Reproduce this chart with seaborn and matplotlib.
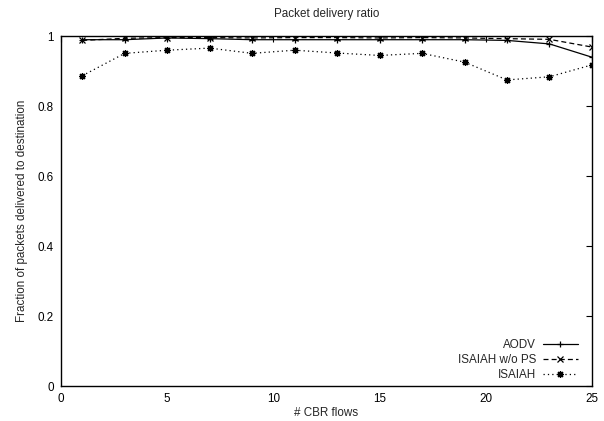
import matplotlib
matplotlib.use("Agg")
import matplotlib.pyplot as plt
import seaborn as sns
import pandas as pd
from matplotlib.ticker import FuncFormatter, MultipleLocator

flows = [1, 3, 5, 7, 9, 11, 13, 15, 17, 19, 21, 23, 25]
aodv = [0.990, 0.990, 0.995, 0.993, 0.990, 0.990, 0.990, 0.990, 0.990, 0.990, 0.988, 0.978, 0.940]
isaiah_nops = [0.988, 0.994, 0.996, 0.996, 0.995, 0.996, 0.996, 0.995, 0.996, 0.995, 0.993, 0.991, 0.969]
isaiah = [0.887, 0.951, 0.960, 0.966, 0.951, 0.960, 0.952, 0.945, 0.951, 0.926, 0.875, 0.884, 0.918]

labels = ["AODV", "ISAIAH w/o PS", "ISAIAH"]
series = [aodv, isaiah_nops, isaiah]
styles = ["-", (0, (4, 2.5)), (0, (1, 2.5))]
markers = ["+", "x", (8, 2, 0)]

sns.set_theme(style="white")
plt.rcParams["font.family"] = ["Liberation Sans", "DejaVu Sans"]
FS = 8.4

fig = plt.figure(figsize=(6.04, 4.21), dpi=100)
ax = fig.add_axes([0.101, 0.083, 0.879, 0.831])

for lab, vals, ls, mk in zip(labels, series, styles, markers):
    df = pd.DataFrame({"flows": flows, "ratio": vals})
    sns.lineplot(data=df, x="flows", y="ratio", ax=ax, color="black",
                 linestyle=ls, marker=mk, markersize=5.0, markeredgewidth=0.9,
                 markeredgecolor="black", markerfacecolor="black",
                 linewidth=0.9, label=lab)

ax.set_xlim(0, 25)
ax.set_ylim(0, 1)
ax.xaxis.set_major_locator(MultipleLocator(5))
ax.yaxis.set_major_locator(MultipleLocator(0.2))
ax.yaxis.set_major_formatter(FuncFormatter(lambda v, p: "%g" % round(v, 3)))
ax.tick_params(direction="in", length=4, width=0.8, top=True, right=True,
               labelsize=FS, colors="black")
ax.tick_params(axis="x", pad=5)
ax.tick_params(axis="y", pad=5)
for s in ax.spines.values():
    s.set_color("black")
    s.set_linewidth(1.0)

ax.set_xlabel("# CBR flows", fontsize=FS, labelpad=1.5)
ax.set_ylabel("Fraction of packets delivered to destination", fontsize=FS, labelpad=7)
ax.set_title("Packet delivery ratio", fontsize=FS, pad=14)

leg = ax.legend(loc="lower right", bbox_to_anchor=(0.9825, 0.0), frameon=False,
                markerfirst=False, fontsize=FS, handlelength=3.0,
                labelspacing=0.26, handletextpad=0.6, borderaxespad=0.0)

fig.savefig("out.png", dpi=100)
